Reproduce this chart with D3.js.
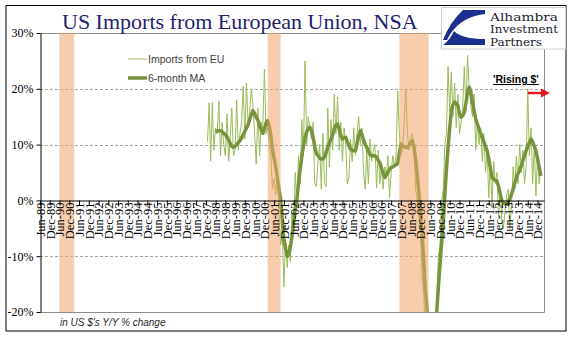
<!DOCTYPE html>
<html><head><meta charset="utf-8">
<script src="https://cdn.jsdelivr.net/npm/d3@7"></script>
<style>body{margin:0;background:#fff}svg{display:block}</style>
</head><body><svg id="c" width="577" height="341"></svg>
<script>
// ---- data ----
const seriesNames = ["Imports from EU", "6-month MA"];
const importsStart = "1998-01";
const importsEU = [
 10.5,17.5,7,17.5,9,13,12,17.8,8,14,
 10,8,15.5,7,11,16.5,8,9,18,9,
 12,14,20.5,11,21,13,16,20,17,12,
 6.5,16.5,8,14,13,23.5,12,13,10,8,
 2,4,1,5,-3,-8,-6,-15.5,-7,-12,
 -8,-11,-2,-5,5,-1,8,3,14.5,8,
 25,10,15,13,11,14,3,2.5,7,10,
 2,12,3,2.5,16.5,6,14.5,9,19,12,
 18.5,9,14,7,13,10,3,4,11,7,
 13,8,12,15,10,13,5,2,9,3,
 11,7,9,10,2.2,9,3,6,2,6,
 4,8,0.5,5,8,6,8,19.6,12,8,
 9,14,20,12,9,11,12,10,2,0,
 -3,-6,-14,-17,-24,-22,-30,-35,-30,-28,
 -24,-18,-10,-8,0,2,10,12,24,16,
 23,15,21,13,19,12,14,17,24,16,
 26,20,17,15,19,9,14,10,13,7,
 12,5,9,0.5,7,-1,7,3,5,-3,
 2,-4,-5,-2,1,2,-5,-1,6,2,
 8,3,10,5,9,3,6,20,8,13,
 3,10,0.8,8,3,6
];
const maStart = "1998-06";
const ma6 = [
 12.2,12.4,12.5,12.5,12.3,12.0,11.8,11.3,10.8,10.2,
 9.7,9.5,9.7,10.0,10.4,10.7,11.2,11.8,12.4,13.0,
 13.6,14.5,15.4,16.1,15.6,14.9,14.4,13.5,12.7,12.0,
 12.8,13.9,14.3,13.2,11.6,9.2,7.5,6.0,4.0,2.0,
 0.2,-3.5,-7.0,-8.6,-10.0,-9.6,-8.4,-6.5,-4.0,-1.5,
 0.2,3.0,5.6,7.8,9.8,11.3,12.3,12.9,13.1,12.5,
 11.3,9.6,8.4,8.0,7.6,7.4,7.4,7.8,8.6,9.6,
 10.3,11.0,11.8,12.8,13.5,13.7,12.8,11.6,11.0,11.2,
 11.3,10.6,9.8,9.2,9.0,8.9,8.9,10.2,11.6,12.5,
 11.8,10.8,10.0,9.5,8.8,8.2,8.0,8.0,8.0,7.7,
 7.2,6.8,5.8,4.8,4.1,4.5,5.0,5.6,5.9,6.0,
 6.2,6.4,6.6,8.5,10.1,9.8,9.6,9.5,9.5,9.9,
 10.4,10.7,9.5,7.4,4.5,1.4,-2.5,-6.4,-11.0,-16.0,
 -19.5,-23,-26,-27,-26,-23,-20,-15.5,-11.5,-7.6,
 -3.5,1.0,5.6,9.5,13.0,16.0,17.2,17.6,17.4,17.0,
 15.5,14.9,15.2,15.8,17.5,19.4,20.3,19.5,17.6,16.0,
 14.6,13.7,12.8,12.0,11.3,10.5,9.7,8.9,7.5,5.8,
 4.1,3.8,3.6,3.5,2.5,1.2,-0.1,-0.4,-0.6,-0.7,
 -0.2,0.4,1.1,2.1,3.1,4.1,4.8,5.5,6.2,7.1,
 8.0,8.9,9.7,10.4,11.0,10.5,9.7,8.9,7.5,5.9,
 4.4
];
const recessions = [["1990-06","1991-03"],["2001-02","2001-10"],["2007-11","2009-05"]];
const yTicks = [30,20,10,0,-10,-20];
const yGrid = [20,10,-10];
const xTickFirst = "1989-06", xTickLast = "2014-12";
const xDomain = ["1989-06","2015-04"];
const logoTxt = ["Alhambra","Investment","Partners"];

// ---- setup ----
const parse = d3.timeParse("%Y-%m");
const svg = d3.select("#c");
const L = 40, R = 544, T = 33, B = 312;
const x = d3.scaleTime().domain(xDomain.map(parse)).range([L, R]);
const y = d3.scaleLinear().domain([-20, 30]).range([B, T]);

function monthSeries(start, vals){
  const s = parse(start);
  return vals.map((v,i)=>({d:d3.timeMonth.offset(s,i), v}));
}
const thin = monthSeries(importsStart, importsEU);
const mav = monthSeries(maStart, ma6);

svg.append("rect").attr("width",577).attr("height",341).attr("fill","#fff");
// outer border
svg.append("rect").attr("x",6).attr("y",5.5).attr("width",560).attr("height",325.5)
  .attr("fill","none").attr("stroke","#000").attr("stroke-width",1);

// plot border (top, right, bottom)
svg.append("path").attr("d",`M${L},${T+0.5}H${R+0.5}V${B+0.5}H${L}`)
  .attr("fill","none").attr("stroke","#8c8c8c").attr("stroke-width",1);

// grid
svg.append("g").selectAll("line").data(yGrid).join("line")
  .attr("x1",L).attr("x2",R).attr("y1",d=>Math.round(y(d))+0.5).attr("y2",d=>Math.round(y(d))+0.5)
  .attr("stroke","#a6a6a6").attr("stroke-dasharray","3,2").attr("stroke-width",1);

svg.append("clipPath").attr("id","clip").append("rect")
  .attr("x",L).attr("y",T).attr("width",R-L).attr("height",B-T);

const line = d3.line().x(d=>x(d.d)).y(d=>y(d.v));
const g = svg.append("g").attr("clip-path","url(#clip)");
g.append("path").datum(thin).attr("d",line).attr("fill","none")
  .attr("stroke","#9bbb59").attr("stroke-width",1).attr("stroke-linejoin","round");
g.append("path").datum(mav).attr("d",line).attr("fill","none")
  .attr("stroke","#77933c").attr("stroke-width",3.5).attr("stroke-linejoin","round");

// recession bands (overlay)
svg.append("g").selectAll("rect").data(recessions).join("rect")
  .attr("x",d=>x(parse(d[0]))).attr("width",d=>x(parse(d[1]))-x(parse(d[0])))
  .attr("y",T).attr("height",B-T)
  .attr("fill","#f0a468").attr("opacity",0.55);

// y axis
const yAxis = svg.append("g").attr("transform",`translate(${L+0.5},0)`)
  .call(d3.axisLeft(y).tickValues(yTicks).tickFormat(d=>d+"%").tickSize(4).tickSizeOuter(0));
yAxis.select(".domain").attr("stroke","#000");
yAxis.selectAll("text").attr("font-family","Liberation Serif").attr("font-size","12px")
  .attr("fill","#000").attr("x",-7);

// x axis at 0
const tickDates = d3.timeMonth.range(parse(xTickFirst), d3.timeMonth.offset(parse(xTickLast),1), 6);
const xAxis = svg.append("g").attr("transform",`translate(0,${Math.round(y(0))+0.5})`)
  .call(d3.axisBottom(x).tickValues(tickDates).tickFormat(d3.timeFormat("%b-%y")).tickSize(5).tickSizeOuter(0));
xAxis.select(".domain").attr("stroke","#000");
xAxis.selectAll(".tick line").attr("stroke","#000");
xAxis.selectAll("text").attr("font-family","Liberation Serif").attr("font-size","12.5px")
  .attr("fill","#000").attr("transform","rotate(-90)").attr("text-anchor","end")
  .attr("x",-2).attr("y",0).attr("dy","0.35em");

// title
svg.append("text").attr("x",62).attr("y",29).attr("font-family","Liberation Serif")
  .attr("font-size","22px").attr("fill","#1f1f6e").text("US Imports from European Union, NSA");

// logo box
svg.append("rect").attr("x",441.5).attr("y",7.5).attr("width",124).attr("height",41.5)
  .attr("fill","#fff").attr("stroke","#d0d0d0");
svg.append("path").attr("d","M463,10 L485,10 L485,14 Q458,17 447,40 L443,40 Q450,22 463,10 Z").attr("fill","#1b2f8f");
svg.append("path").attr("d","M443,45 L485,45 L485,39 Q462,39 454,31 Q450,40 443,45 Z").attr("fill","#1b2f8f");
const logoW = [68,68,52];
svg.append("g").selectAll("text").data(logoTxt).join("text")
  .attr("x",490).attr("y",(d,i)=>20.5+i*12.5).attr("font-family","DejaVu Serif")
  .attr("font-size","10.5px").attr("textLength",(d,i)=>logoW[i]).attr("lengthAdjust","spacingAndGlyphs")
  .attr("fill","#1a1a2e").text(d=>d);

// legend
const leg = svg.append("g");
leg.append("line").attr("x1",128).attr("x2",147).attr("y1",59).attr("y2",59)
  .attr("stroke","#9bbb59").attr("stroke-width",1);
leg.append("line").attr("x1",128).attr("x2",147).attr("y1",78).attr("y2",78)
  .attr("stroke","#77933c").attr("stroke-width",3.5);
leg.selectAll("text").data(seriesNames).join("text")
  .attr("x",148).attr("y",(d,i)=>59+i*19).attr("dy","0.35em")
  .attr("font-family","Liberation Sans").attr("font-size","10.5px").attr("fill","#404040").text(d=>d);

// note
svg.append("text").attr("x",60).attr("y",326).attr("font-family","Liberation Sans")
  .attr("font-style","italic").attr("font-size","10px").attr("fill","#262626").text("in US $'s Y/Y % change");

// Rising $
svg.append("text").attr("x",493).attr("y",83).attr("font-family","Liberation Sans")
  .attr("font-weight","bold").attr("font-size","10.5px").attr("fill","#000")
  .attr("text-decoration","underline").text("'Rising $'");
svg.append("line").attr("x1",528).attr("x2",543).attr("y1",93).attr("y2",93)
  .attr("stroke","#e41a1a").attr("stroke-width",2.5);
svg.append("path").attr("d","M541,88.5 L550,93 L541,97.5 Z").attr("fill","#e41a1a");
</script></body></html>
